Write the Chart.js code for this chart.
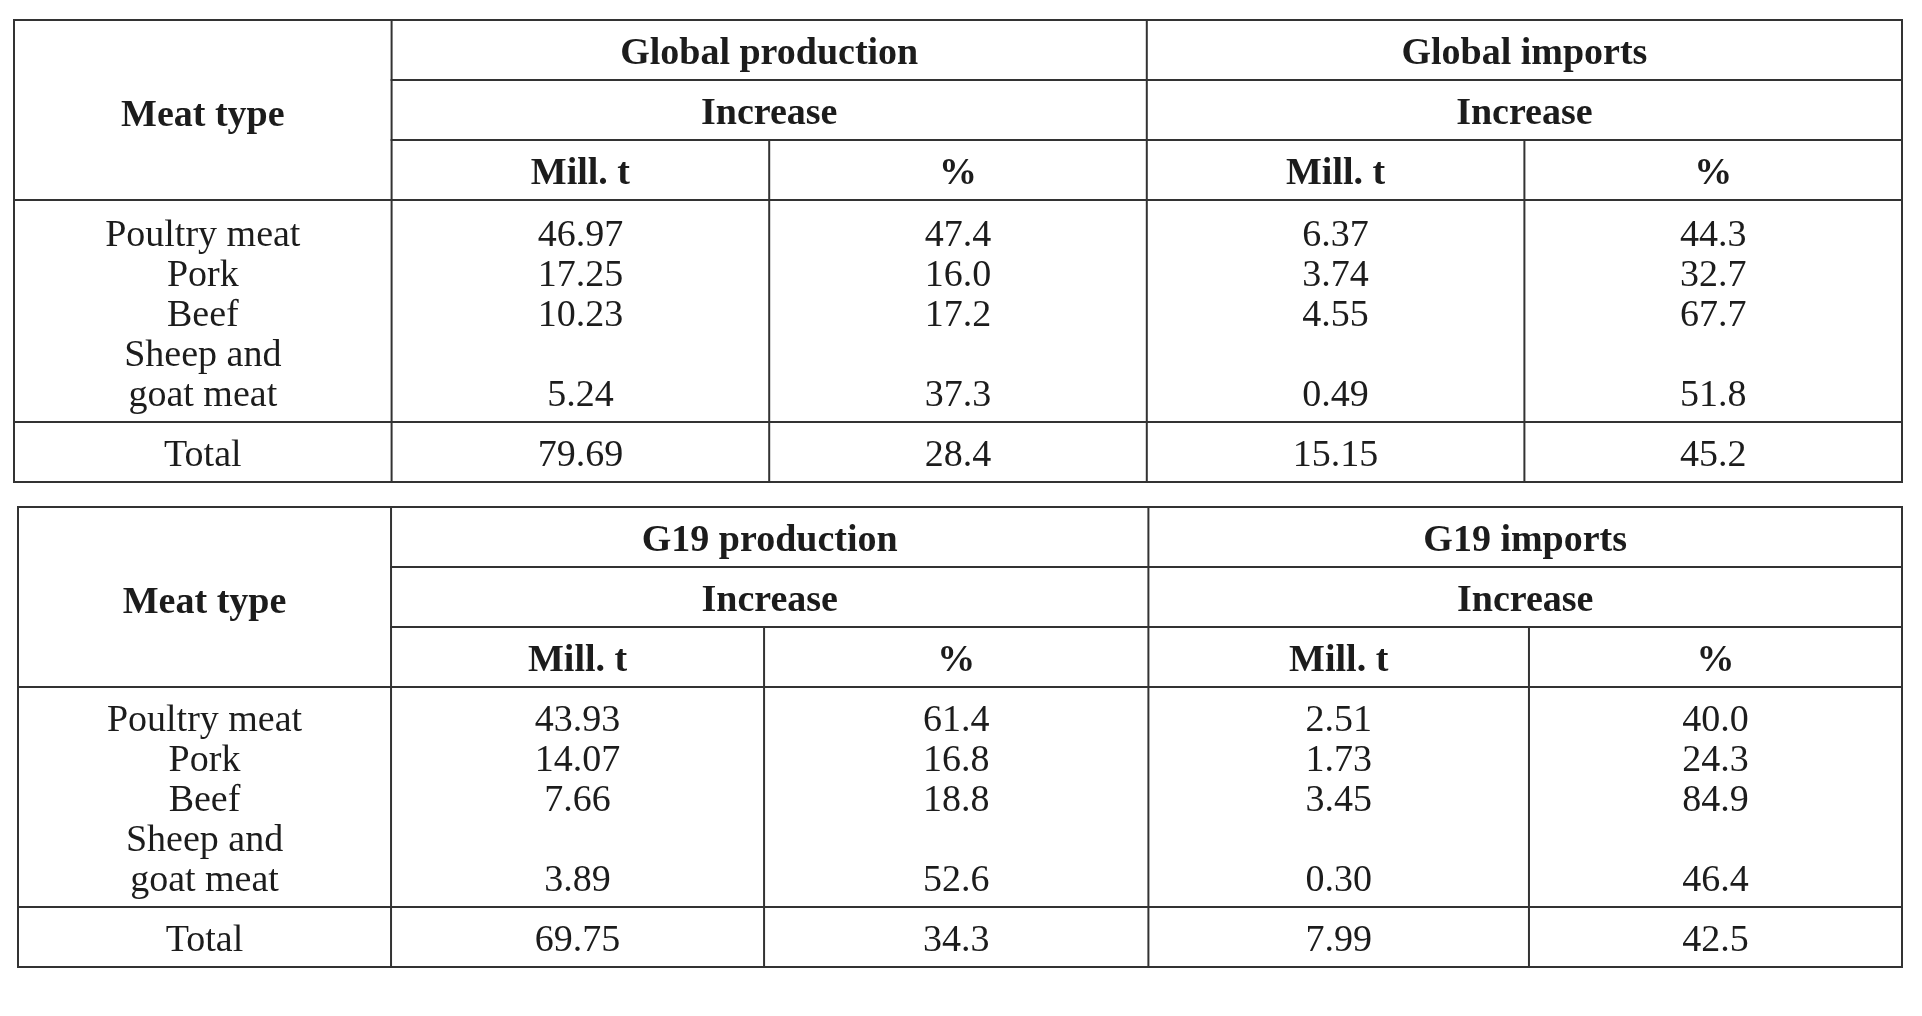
<!DOCTYPE html>
<html>
<head>
<meta charset="utf-8">
<title>Meat production and imports</title>
<script src="https://cdn.jsdelivr.net/npm/chart.js@4.4.0/dist/chart.umd.min.js"></script>
<style>
  html, body { margin: 0; padding: 0; background: #fff; width: 1922px; height: 1016px; overflow: hidden; }
  .tbl { position: absolute; }
  #t1 { left: 11.5px; top: 18px; width: 1892px; height: 466px; }
  #t2 { left: 15.7px; top: 504.7px; width: 1888px; height: 464px; }
</style>
</head>
<body>
<div class="tbl" id="t1"><canvas id="c1"></canvas></div>
<div class="tbl" id="t2"><canvas id="c2"></canvas></div>
<script>
// Categorías (filas) - la última se parte en dos líneas
var meatTypes = ["Poultry meat", "Pork", "Beef", ["Sheep and", "goat meat"]];
var subHeaders = ["Mill. t", "%"];
var decimals = [2, 1, 2, 1];

// Tabla 1: mundo
var globalTitles = ["Global production", "Global imports"];
var globalProdMillT = [46.97, 17.25, 10.23, 5.24];
var globalProdPct = [47.4, 16.0, 17.2, 37.3];
var globalImpMillT = [6.37, 3.74, 4.55, 0.49];
var globalImpPct = [44.3, 32.7, 67.7, 51.8];
var globalTotals = [79.69, 28.4, 15.15, 45.2];

// Tabla 2: G19
var g19Titles = ["G19 production", "G19 imports"];
var g19ProdMillT = [43.93, 14.07, 7.66, 3.89];
var g19ProdPct = [61.4, 16.8, 18.8, 52.6];
var g19ImpMillT = [2.51, 1.73, 3.45, 0.30];
var g19ImpPct = [40.0, 24.3, 84.9, 46.4];
var g19Totals = [69.75, 34.3, 7.99, 42.5];

var inkColor = "#1c1c1c";
var ruleColor = "#333333";
var fontNormal = '38px "Liberation Serif", "DejaVu Serif", serif';
var fontBold = 'bold 38px "Liberation Serif", "DejaVu Serif", serif';
var textShift = 4.5; // ajuste óptico del centro del texto

// Plugin: dibuja los textos de cada dataset en la posición de sus puntos
var cellText = {
  id: 'cellText',
  afterDatasetsDraw: function(chart) {
    var ctx = chart.ctx;
    ctx.save();
    ctx.fillStyle = inkColor;
    ctx.textAlign = 'center';
    ctx.textBaseline = 'middle';
    chart.data.datasets.forEach(function(ds, i) {
      ctx.font = ds.font;
      chart.getDatasetMeta(i).data.forEach(function(pt, j) {
        ctx.fillText(ds.texts[j], pt.x, pt.y + textShift);
      });
    });
    ctx.restore();
  }
};

// Plugin: bordes de la tabla usando las escalas
var tableRules = {
  id: 'tableRules',
  beforeDatasetsDraw: function(chart, args, opts) {
    var ctx = chart.ctx;
    var x = chart.scales.x, y = chart.scales.y;
    var c = opts.cols, r = opts.rows;
    function line(x0, y0, x1, y1) {
      ctx.beginPath();
      ctx.moveTo(x.getPixelForValue(x0), y.getPixelForValue(y0));
      ctx.lineTo(x.getPixelForValue(x1), y.getPixelForValue(y1));
      ctx.stroke();
    }
    ctx.save();
    ctx.strokeStyle = ruleColor;
    ctx.lineWidth = 2;
    ctx.lineCap = 'square';
    var last = r.length - 1;
    // marco exterior
    line(c[0], r[0], c[5], r[0]);
    line(c[0], r[last], c[5], r[last]);
    line(c[0], r[0], c[0], r[last]);
    line(c[5], r[0], c[5], r[last]);
    // verticales
    line(c[1], r[0], c[1], r[last]);
    line(c[3], r[0], c[3], r[last]);
    line(c[2], r[2], c[2], r[last]);
    line(c[4], r[2], c[4], r[last]);
    // horizontales
    line(c[1], r[1], c[5], r[1]);
    line(c[1], r[2], c[5], r[2]);
    line(c[0], r[3], c[5], r[3]);
    line(c[0], r[4], c[5], r[4]);
    ctx.restore();
  }
};

function buildTable(canvasId, titles, columns, totals, layout) {
  var c = layout.cols, r = layout.rows;
  function mid(a, b) { return (a + b) / 2; }

  // cabeceras
  var headTexts = ["Meat type"], headPts = [{x: mid(c[0], c[1]), y: mid(r[0], r[3]) + 0.05}];
  titles.forEach(function(t, g) {
    var a = c[1 + g * 2], b = c[3 + g * 2];
    headTexts.push(t);
    headPts.push({x: mid(a, b), y: mid(r[0], r[1])});
    headTexts.push("Increase");
    headPts.push({x: mid(a, b), y: mid(r[1], r[2])});
    subHeaders.forEach(function(s, k) {
      headTexts.push(s);
      headPts.push({x: mid(c[1 + g * 2 + k], c[2 + g * 2 + k]), y: mid(r[2], r[3])});
    });
  });

  // columna de tipos de carne
  var typeTexts = [], typePts = [], valueLine = [], lineNo = 0;
  meatTypes.forEach(function(m) {
    var parts = Array.isArray(m) ? m : [m];
    parts.forEach(function(p) {
      typeTexts.push(p);
      typePts.push({x: mid(c[0], c[1]), y: layout.firstLine + lineNo});
      lineNo++;
    });
    valueLine.push(layout.firstLine + lineNo - 1);
  });
  typeTexts.push("Total");
  typePts.push({x: mid(c[0], c[1]), y: layout.totalLine});

  var datasets = [
    {data: headPts, texts: headTexts, font: fontBold},
    {data: typePts, texts: typeTexts, font: fontNormal}
  ];

  columns.forEach(function(vals, k) {
    var cx = mid(c[k + 1], c[k + 2]);
    var pts = vals.map(function(v, i) { return {x: cx, y: valueLine[i]}; });
    var txt = vals.map(function(v) { return v.toFixed(decimals[k]); });
    pts.push({x: cx, y: layout.totalLine});
    txt.push(totals[k].toFixed(decimals[k]));
    datasets.push({data: pts, texts: txt, font: fontNormal});
  });

  return new Chart(document.getElementById(canvasId), {
    type: 'scatter',
    data: {datasets: datasets},
    options: {
      responsive: true,
      maintainAspectRatio: false,
      animation: false,
      events: [],
      elements: {point: {radius: 0, hoverRadius: 0}},
      layout: {padding: 2},
      scales: {
        x: {type: 'linear', min: c[0], max: c[5], display: false},
        y: {type: 'linear', min: r[0], max: r[r.length - 1], reverse: true, display: false}
      },
      plugins: {
        legend: {display: false},
        tooltip: {enabled: false},
        tableRules: {cols: c, rows: r}
      }
    },
    plugins: [tableRules, cellText]
  });
}

// unidades: columnas y líneas de texto (40 px)
buildTable('c1', globalTitles,
  [globalProdMillT, globalProdPct, globalImpMillT, globalImpPct], globalTotals,
  {cols: [0, 1, 2, 3, 4, 5], rows: [0, 1.5, 3, 4.5, 10.05, 11.55], firstLine: 5.28, totalLine: 10.8});

buildTable('c2', g19Titles,
  [g19ProdMillT, g19ProdPct, g19ImpMillT, g19ImpPct], g19Totals,
  {cols: [0, 0.99, 1.98, 3.0, 4.01, 5], rows: [0, 1.5, 3, 4.5, 10, 11.5], firstLine: 5.24, totalLine: 10.75});
</script>
</body>
</html>
